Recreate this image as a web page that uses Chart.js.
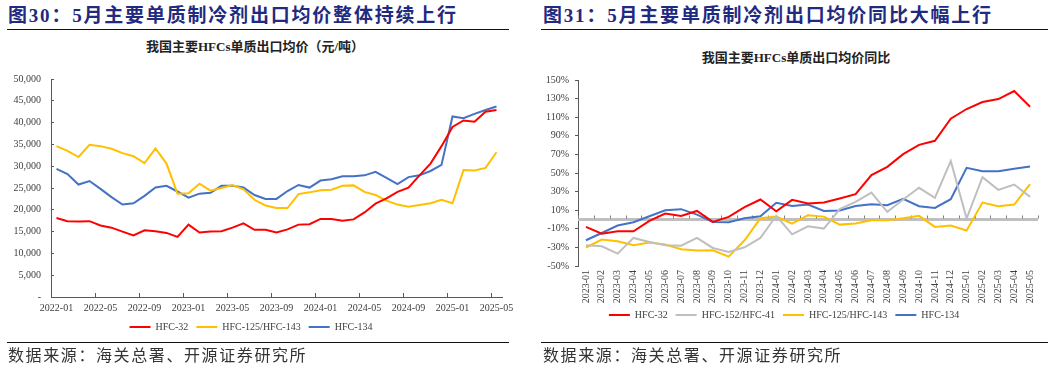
<!DOCTYPE html>
<html><head><meta charset="utf-8">
<script src="https://cdn.jsdelivr.net/npm/chart.js@4"></script>
<style>
body{margin:0;width:1057px;height:368px;background:#fff;position:relative;overflow:hidden;font-family:"Liberation Serif","Noto Sans CJK SC",serif;}
.t{position:absolute;font-weight:bold;font-size:19px;letter-spacing:1.8px;color:#1F2A80;white-space:nowrap;line-height:20px;}
.rule{position:absolute;height:0;border-top:1.5px solid #111;}
.sub{position:absolute;font-weight:bold;font-size:13px;color:#222;white-space:nowrap;transform:translateX(-50%);line-height:14px;}
.src{position:absolute;font-family:"Noto Sans CJK SC";font-size:16px;letter-spacing:1.6px;color:#333;line-height:18px;white-space:nowrap;}
canvas{position:absolute;}
</style></head><body>
<div class="t" style="left:8px;top:6px;">图30：5月主要单质制冷剂出口均价整体持续上行</div>
<div class="t" style="left:543px;top:6px;">图31：5月主要单质制冷剂出口均价同比大幅上行</div>
<div class="rule" style="left:7px;top:29px;width:502px;"></div>
<div class="rule" style="left:541px;top:29px;width:507px;"></div>
<div class="sub" style="left:255px;top:40px;">我国主要HFCs单质出口均价（元/吨）</div>
<div class="sub" style="left:796px;top:51px;">我国主要HFCs单质出口均价同比</div>
<canvas id="c1" width="525" height="300" style="left:0;top:60px;width:525px;height:300px;"></canvas>
<canvas id="c2" width="527" height="300" style="left:530px;top:60px;width:527px;height:300px;"></canvas>
<div class="rule" style="left:7px;top:342px;width:502px;"></div>
<div class="rule" style="left:541px;top:342px;width:507px;"></div>
<div class="src" style="left:8px;top:345px;">数据来源：海关总署、开源证券研究所</div>
<div class="src" style="left:543px;top:345px;">数据来源：海关总署、开源证券研究所</div>
<script>
// ---- Left chart data (元/吨) ----
const priceMonths = ['2022-01','2022-02','2022-03','2022-04','2022-05','2022-06','2022-07','2022-08','2022-09','2022-10','2022-11','2022-12',
'2023-01','2023-02','2023-03','2023-04','2023-05','2023-06','2023-07','2023-08','2023-09','2023-10','2023-11','2023-12',
'2024-01','2024-02','2024-03','2024-04','2024-05','2024-06','2024-07','2024-08','2024-09','2024-10','2024-11','2024-12',
'2025-01','2025-02','2025-03','2025-04','2025-05'];
const hfc32Price = [18100,17400,17300,17400,16400,15900,15000,14100,15300,15100,14700,13800,16600,14800,15000,15100,15900,16900,15400,15400,14800,15500,16600,16700,17900,17900,17500,17800,19400,21400,22600,24100,25100,27900,30600,34600,39000,40500,40200,42500,42900];
const hfc125Price = [34600,33500,32100,34900,34600,34000,33000,32300,30700,34100,30600,23700,23800,26000,24400,25000,25700,24700,22300,21000,20400,20400,23600,24000,24500,24600,25500,25600,24100,23400,22100,21200,20700,21100,21500,22300,21500,29100,29000,29600,33200];
const hfc134Price = [29400,28200,25800,26600,24800,22900,21200,21500,23200,25100,25500,24200,22800,23700,23900,25500,25500,25100,23400,22500,22500,24300,25700,25100,26700,27000,27700,27700,27900,28700,27300,25900,27500,27900,28900,30300,41400,41000,42000,42900,43700];

// ---- Right chart data (同比, %) ----
const yoyMonths = ['2023-01','2023-02','2023-03','2023-04','2023-05','2023-06','2023-07','2023-08','2023-09','2023-10','2023-11','2023-12',
'2024-01','2024-02','2024-03','2024-04','2024-05','2024-06','2024-07','2024-08','2024-09','2024-10','2024-11','2024-12',
'2025-01','2025-02','2025-03','2025-04','2025-05'];
const hfc32Yoy = [-8.0,-15.2,-12.7,-12.7,-1.5,6.4,3.9,9.2,-2.6,2.8,13.2,21.5,8.9,21.1,17.1,18.2,22.5,27.2,47.7,56.6,70.3,80.3,84.6,108.4,118.8,126.3,129.5,138.1,121.3];
const hfc152Yoy = [-27.7,-28.8,-36.7,-19.8,-24.2,-27.7,-28.1,-19.8,-30.6,-34.9,-29.9,-19.8,4.0,-15.9,-7.3,-9.8,11.1,19.0,29.0,8.2,21.5,34.1,23.3,62.8,1.0,45.5,31.9,37.6,24.3];
const hfc125Yoy = [-30.1,-21.5,-23.3,-27.7,-24.8,-26.9,-32.0,-33.4,-33.1,-39.9,-22.3,1.3,3.1,-4.4,4.6,3.1,-5.5,-4.4,-0.8,-0.8,1.3,3.9,-8.0,-6.5,-11.9,18.2,14.3,16.1,38.0];
const hfc134Yoy = [-22.3,-14.5,-6.5,-3.0,3.5,10.0,11.1,5.3,-2.6,-3.0,1.3,3.5,17.9,14.6,16.1,9.2,9.6,14.6,16.4,15.3,22.2,14.3,12.5,21.8,55.6,52.0,52.0,54.5,57.0];

const seriesNames = ['HFC-32','HFC-152/HFC-41','HFC-125/HFC-143','HFC-134'];
const colors = {red:'#FF0000', gray:'#BFBFBF', yellow:'#FFC000', blue:'#4472C4'};

const FONT = {family:'"Liberation Serif","Times New Roman",serif', size:10};
const TXT = '#404040';
const AXIS = '#595959';

function ds(label, data, color){
  return {label, data, borderColor:color, backgroundColor:color, borderWidth:2, pointRadius:0, pointHoverRadius:0, tension:0, fill:false};
}
const legendCfg = (pad) => ({
  position:'bottom',
  labels:{
    font:FONT, color:TXT, boxWidth:21, boxHeight:2, padding:pad,
    generateLabels(chart){
      return chart.data.datasets.map((d,i)=>({text:d.label, fillStyle:d.borderColor, strokeStyle:d.borderColor, lineWidth:0, hidden:false, datasetIndex:i, fontColor:TXT}));
    }
  }
});

// let rotated x labels extend below the axis box (no clipping)
const noLabelClip = {
  id:'noLabelClip',
  beforeDraw(chart){ chart.scales.x._computeLabelArea = () => undefined; }
};

new Chart(document.getElementById('c1'), {
  type:'line',
  data:{labels:priceMonths, datasets:[
    ds(seriesNames[0], hfc32Price, colors.red),
    ds(seriesNames[2], hfc125Price, colors.yellow),
    ds(seriesNames[3], hfc134Price, colors.blue)
  ]},
  options:{
    responsive:false, animation:false, devicePixelRatio:1,
    layout:{padding:{top:8,right:23,bottom:18,left:0}},
    plugins:{legend:legendCfg(8), tooltip:{enabled:false}},
    scales:{
      x:{
        offset:true,
        grid:{offset:true, drawOnChartArea:false, tickLength:-4, tickColor:(c)=> (c.index%4===0 ? AXIS : 'rgba(0,0,0,0)')},
        border:{display:true, color:AXIS, width:1},
        ticks:{autoSkip:false, maxRotation:0, minRotation:0, font:FONT, color:TXT, padding:9,
          callback:(v,i)=> (i%4===0 ? priceMonths[i] : '')},
        afterFit:(s)=>{s.height=17;}
      },
      y:{
        min:0, max:50000,
        grid:{drawOnChartArea:false, tickLength:-3, tickColor:AXIS},
        border:{display:true, color:AXIS, width:1},
        ticks:{stepSize:5000, font:FONT, color:TXT, padding:13,
          callback:(v)=> (v===0 ? '-' : v.toLocaleString('en-US'))},
        afterFit:(s)=>{s.width=51;}
      }
    }
  }
});

const zeroLine = {
  id:'zeroLine',
  beforeDatasetsDraw(chart){
    const {ctx, chartArea, scales:{x,y}} = chart;
    const y0 = y.getPixelForValue(0);
    ctx.save();
    ctx.strokeStyle = '#BFBFBF'; ctx.lineWidth = 3;
    ctx.beginPath(); ctx.moveTo(chartArea.left, y0); ctx.lineTo(chartArea.right, y0); ctx.stroke();
    const n = chart.data.labels.length;
    const w = x.getPixelForValue(1) - x.getPixelForValue(0);
    ctx.strokeStyle = '#7F7F7F'; ctx.lineWidth = 1;
    ctx.beginPath();
    for(let i=0;i<=n;i++){
      const px = Math.round(x.getPixelForValue(0) - w/2 + i*w) + 0.5;
      ctx.moveTo(px, y0-4); ctx.lineTo(px, y0-1);
    }
    ctx.stroke();
    ctx.restore();
  }
};

new Chart(document.getElementById('c2'), {
  type:'line',
  data:{labels:yoyMonths, datasets:[
    ds(seriesNames[0], hfc32Yoy, colors.red),
    ds(seriesNames[1], hfc152Yoy, colors.gray),
    ds(seriesNames[2], hfc125Yoy, colors.yellow),
    ds(seriesNames[3], hfc134Yoy, colors.blue)
  ]},
  plugins:[zeroLine, noLabelClip],
  options:{
    responsive:false, animation:false, devicePixelRatio:1,
    layout:{padding:{top:20,right:19,bottom:30,left:0}},
    plugins:{legend:legendCfg(8), tooltip:{enabled:false}},
    scales:{
      x:{
        offset:true,
        grid:{display:false},
        border:{display:false},
        ticks:{autoSkip:false, maxRotation:90, minRotation:90, font:FONT, color:TXT, padding:-4},
        afterFit:(s)=>{s.height=36;}
      },
      y:{
        min:-50, max:150,
        grid:{drawOnChartArea:false, tickLength:3, tickColor:AXIS},
        border:{display:true, color:AXIS, width:1},
        ticks:{stepSize:20, font:FONT, color:TXT, padding:6, callback:(v)=> v + '%'},
        afterFit:(s)=>{s.width=48;}
      }
    }
  }
});
</script>
</body></html>
